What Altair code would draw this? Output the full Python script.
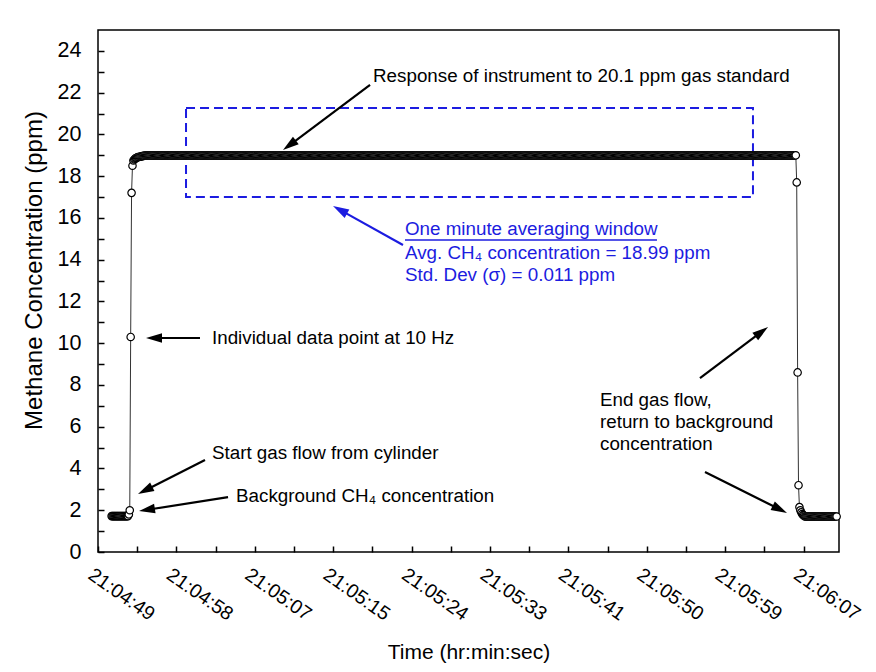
import json
import math
import altair as alt
import pandas as pd

# ---------------- data ----------------
tick_labels = ["21:04:49", "21:04:58", "21:05:07", "21:05:15", "21:05:24",
               "21:05:33", "21:05:41", "21:05:50", "21:05:59", "21:06:07"]
major_step_s = 8.64          # Excel major unit (1/10000 day) in seconds
x_axis_max_s = 81.66         # axis runs a little past the last labelled tick
y_ticks = [0, 2, 4, 6, 8, 10, 12, 14, 16, 18, 20, 22, 24]

sample_rate_hz = 10
first_sample_s = 1.5         # seconds after 21:04:49
bg_before_level = 1.72
bg_before_count = 19
rise_values = [1.8, 2.0, 10.3, 17.2, 18.5, 18.75]
approach_values = [18.8, 18.84, 18.87, 18.89, 18.91, 18.92, 18.93, 18.94,
                   18.95, 18.96, 18.97, 18.98]
plateau_level = 18.99
plateau_count = 717
fall_values = [19.0, 17.7, 8.6, 3.2, 2.15, 2.0, 1.9, 1.82, 1.77, 1.74]
bg_after_level = 1.70
bg_after_count = 36

ppm_values = ([bg_before_level] * bg_before_count + rise_values + approach_values
              + [plateau_level] * plateau_count + fall_values
              + [bg_after_level] * bg_after_count)
times = [first_sample_s + i / sample_rate_hz for i in range(len(ppm_values))]
data = pd.DataFrame({"t": times, "ppm": ppm_values})

# averaging window box (seconds, ppm)
box = pd.DataFrame({"x1": [9.70], "x2": [72.18], "y1": [17.0], "y2": [21.26]})

BLUE = "#1c1ce0"
# annotation texts: x (s), y (ppm)
ann_text = ["Response of instrument to 20.1 ppm gas standard",
            "One minute averaging window",
            "Avg. CH\u2084 concentration = 18.99 ppm",
            "Std. Dev (\u03c3) = 0.011 ppm",
            "Individual data point at 10 Hz",
            "Start gas flow from cylinder",
            "Background CH\u2084 concentration",
            "End gas flow,",
            "return to background",
            "concentration"]
ann_x = [30.31, 33.83, 33.83, 33.83, 12.56, 12.56, 15.21, 55.32, 55.32, 55.32]
ann_y = [22.80, 15.47, 14.32, 13.27, 10.25, 4.74, 2.68, 7.28, 6.23, 5.17]
ann_color = ["black", BLUE, BLUE, BLUE, "black", "black", "black",
             "black", "black", "black"]
texts = pd.DataFrame({"x": ann_x, "y": ann_y, "label": ann_text, "color": ann_color})

underline = pd.DataFrame({"x1": [33.83], "x2": [61.60], "y": [14.94]})

# arrows: start (s, ppm) -> tip (s, ppm)
arrow_x0 = [29.98, 33.61, 11.24, 11.79, 14.33, 66.34, 66.89]
arrow_y0 = [22.37, 14.70, 10.25, 4.41, 2.63, 8.33, 3.83]
arrow_x1 = [20.39, 25.90, 5.29, 4.41, 4.52, 73.84, 75.93]
arrow_y1 = [19.25, 16.57, 10.25, 2.78, 1.96, 10.78, 1.87]
arrow_color = ["black", BLUE, "black", "black", "black", "black", "black"]

# ---------------- geometry helpers ----------------
W, H = 741, 522
y_max = 25
px_s = W / x_axis_max_s
px_ppm = H / y_max

rows = []
for x0, y0, x1, y1, c in zip(arrow_x0, arrow_y0, arrow_x1, arrow_y1, arrow_color):
    dx = (x1 - x0) * px_s
    dy = -(y1 - y0) * px_ppm
    L = math.hypot(dx, dy)
    ux, uy = dx / L, dy / L
    ang = math.degrees(math.atan2(dx, -dy)) % 360
    back = 10.0
    xe = x1 - ux * back / px_s
    ye = y1 + uy * back / px_ppm
    rows.append({"x0": x0, "y0": y0, "xe": xe, "ye": ye, "x1": x1, "y1": y1,
                 "ang": ang, "color": c})
arrows = pd.DataFrame(rows)

FONT = "Liberation Sans"
xs = alt.Scale(domain=[0, x_axis_max_s], nice=False, zero=False)
ys = alt.Scale(domain=[0, y_max], nice=False, zero=False)

major_x = [round(k * major_step_s, 4) for k in range(len(tick_labels))]
all_x_ticks = [round(k * major_step_s / 2, 4) for k in range(2 * len(tick_labels) - 1)]
all_y_ticks = list(range(0, 25))

label_expr = json.dumps(tick_labels).replace('"', "'") + "[round(datum.value/%s)]" % major_step_s

x_label_axis = alt.Axis(values=major_x, labelExpr=label_expr, tickSize=0, domain=False,
                        grid=False, labelAngle=35, labelAlign="left", labelBaseline="top",
                        labelPadding=13, labelFontSize=19.5, labelOffset=-3,
                        labelFlush=False, labelOverlap=False, labelBound=False,
                        orient="bottom", title="Time (hr:min:sec)", titleFontSize=21,
                        titleFontWeight="normal", titlePadding=18)
y_label_axis = alt.Axis(values=y_ticks, tickSize=0, domain=False, grid=False,
                        labelPadding=17, labelFontSize=21.5, orient="left",
                        title="Methane Concentration (ppm)", titleFontSize=24,
                        titleFontWeight="normal", titlePadding=11, titleY=240)
x_tick_axis = alt.Axis(values=all_x_ticks, labels=False, domain=False, grid=False,
                       tickSize=6, offset=-6, tickWidth=1.5, tickColor="black",
                       orient="bottom", title=None)
y_tick_axis = alt.Axis(values=all_y_ticks, labels=False, domain=False, grid=False,
                       tickSize=6, offset=-6, tickWidth=1.5, tickColor="black",
                       orient="left", title=None)

box_layer = alt.Chart(box).mark_rect(fill="white", fillOpacity=0, stroke=BLUE,
                                     strokeWidth=2, strokeDash=[9, 5]).encode(
    x=alt.X("x1:Q", scale=xs, axis=x_tick_axis), x2="x2:Q",
    y=alt.Y("y1:Q", scale=ys, axis=y_tick_axis), y2="y2:Q")

line_layer = alt.Chart(data).mark_line(color="#333333", strokeWidth=1).encode(
    x=alt.X("t:Q", scale=xs, axis=x_label_axis),
    y=alt.Y("ppm:Q", scale=ys, axis=y_label_axis),
    order="t:Q")

point_layer = alt.Chart(data).mark_point(shape="circle", filled=False, fill="white",
                                         fillOpacity=1, stroke="black", strokeWidth=1.2,
                                         size=55, opacity=1).encode(
    x=alt.X("t:Q", scale=xs, axis=None),
    y=alt.Y("ppm:Q", scale=ys, axis=None))

shaft_layer = alt.Chart(arrows).mark_rule(strokeWidth=2.2, strokeCap="butt").encode(
    x=alt.X("x0:Q", scale=xs, axis=None), x2="xe:Q",
    y=alt.Y("y0:Q", scale=ys, axis=None), y2="ye:Q",
    color=alt.Color("color:N", scale=None))

head_layer = alt.Chart(arrows).mark_point(shape="M0,0 L0.6,2 L-0.6,2 Z", filled=True,
                                          size=256, opacity=1, strokeWidth=0).encode(
    x=alt.X("x1:Q", scale=xs, axis=None),
    y=alt.Y("y1:Q", scale=ys, axis=None),
    angle=alt.Angle("ang:Q", scale=None),
    color=alt.Color("color:N", scale=None))

text_layer = alt.Chart(texts).mark_text(align="left", baseline="middle", font=FONT,
                                        fontSize=18.8).encode(
    x=alt.X("x:Q", scale=xs, axis=None),
    y=alt.Y("y:Q", scale=ys, axis=None),
    text="label:N",
    color=alt.Color("color:N", scale=None))

underline_layer = alt.Chart(underline).mark_rule(color=BLUE, strokeWidth=1.5).encode(
    x=alt.X("x1:Q", scale=xs, axis=None), x2="x2:Q",
    y=alt.Y("y:Q", scale=ys, axis=None))

chart = alt.layer(box_layer, line_layer, point_layer, shaft_layer, head_layer,
                  text_layer, underline_layer).resolve_axis(
    x="independent", y="independent"
).properties(
    width=W, height=H,
    autosize=alt.AutoSizeParams(type="none"),
    padding={"left": 90, "top": 22, "right": 29, "bottom": 112},
    background="white",
).configure_view(stroke="black", strokeWidth=1.5).configure_axis(
    labelFont=FONT, titleFont=FONT, labelColor="black", titleColor="black")

chart.save("out.html", embed_options={"renderer": "svg", "actions": False})
